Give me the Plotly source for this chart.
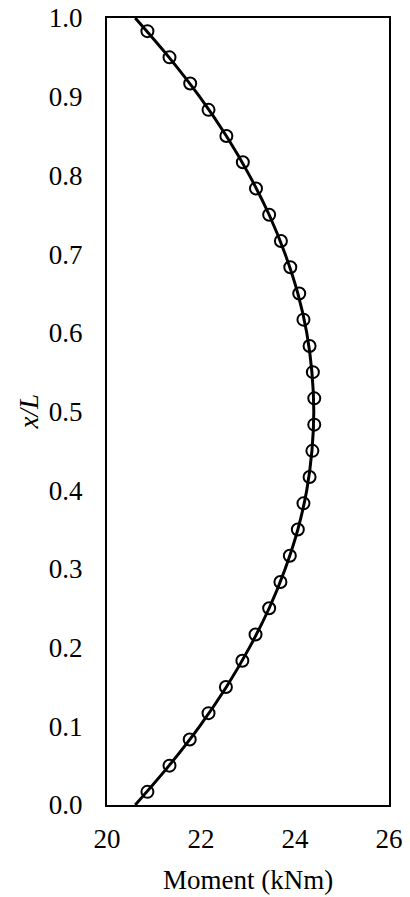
import plotly.graph_objects as go

# Marker data (x/L positions and moment values)
marker_xl = [0.0167, 0.05, 0.0833, 0.1167, 0.15, 0.1833, 0.2167, 0.25, 0.2833, 0.3167,
             0.35, 0.3833, 0.4167, 0.45, 0.4833, 0.5167, 0.55, 0.5833, 0.6167, 0.65,
             0.6833, 0.7167, 0.75, 0.7833, 0.8167, 0.85, 0.8833, 0.9167, 0.95, 0.9833]
marker_moment = [20.86, 21.33, 21.76, 22.16, 22.53, 22.88, 23.16, 23.45, 23.69, 23.89,
                 24.06, 24.18, 24.31, 24.37, 24.41, 24.41, 24.38, 24.31, 24.18, 24.09,
                 23.90, 23.70, 23.45, 23.17, 22.89, 22.54, 22.16, 21.77, 21.33, 20.86]

# Continuous curve (read values)
line_xl = [0.0, 0.05, 0.1, 0.15, 0.2, 0.25, 0.3, 0.35, 0.4, 0.45, 0.5,
           0.55, 0.6, 0.65, 0.7, 0.75, 0.8, 0.85, 0.9, 0.95, 1.0]
line_moment = [20.60, 21.32, 21.97, 22.54, 23.03, 23.45, 23.79, 24.06, 24.25, 24.36, 24.40,
               24.36, 24.25, 24.06, 23.79, 23.45, 23.03, 22.54, 21.97, 21.32, 20.60]

x_ticks = [20, 22, 24, 26]
y_ticks = [0.0, 0.1, 0.2, 0.3, 0.4, 0.5, 0.6, 0.7, 0.8, 0.9, 1.0]

FONT = "Liberation Serif, Times New Roman, serif"
FS = 27

fig = go.Figure()
fig.add_trace(go.Scatter(
    x=line_moment, y=line_xl, mode="lines",
    line=dict(color="black", width=3, shape="spline", smoothing=1.0),
    showlegend=False, hoverinfo="skip"))
fig.add_trace(go.Scatter(
    x=marker_moment, y=marker_xl, mode="markers",
    marker=dict(symbol="circle-open", size=12, color="black", line=dict(width=2, color="black")),
    showlegend=False))

fig.update_layout(
    width=410, height=897,
    margin=dict(l=107, r=21, t=18, b=92, autoexpand=False),
    paper_bgcolor="white", plot_bgcolor="white",
    font=dict(family=FONT, size=FS, color="black"),
    xaxis=dict(range=[20, 26], tickvals=x_ticks, ticks="", showgrid=False, zeroline=False,
               showline=True, linecolor="black", linewidth=2, mirror=True,
               ticklabelstandoff=9, automargin=False),
    yaxis=dict(range=[0, 1], tickvals=y_ticks, tickformat=".1f", ticks="", showgrid=False,
               zeroline=False, showline=True, linecolor="black", linewidth=2, mirror=True,
               ticklabelstandoff=17, automargin=False),
    annotations=[
        dict(text="Moment (kNm)", xref="paper", yref="paper", x=0.5, y=0,
             xanchor="center", yanchor="middle", yshift=-75, showarrow=False,
             font=dict(family=FONT, size=FS)),
        dict(text="<i>x/L</i>", xref="paper", yref="paper", x=0, y=0.5,
             xanchor="center", yanchor="middle", xshift=-79, textangle=-90,
             showarrow=False, font=dict(family=FONT, size=FS)),
    ],
)

fig.write_html("out.html")
